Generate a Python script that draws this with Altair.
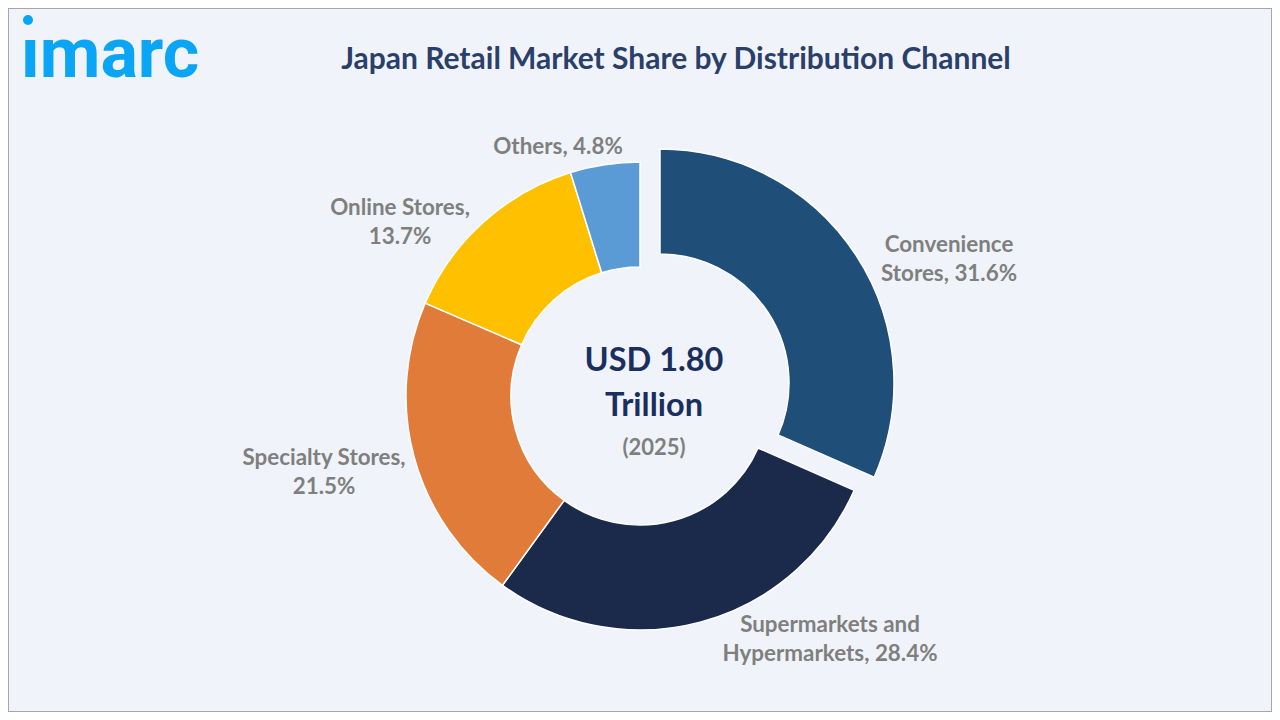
import math

import altair as alt
import pandas as pd

channels = ["Convenience Stores", "Supermarkets and Hypermarkets", "Specialty Stores", "Online Stores", "Others"]
shares = [31.6, 28.4, 21.5, 13.7, 4.8]
colors = ["#1F4E79", "#1B2A4A", "#E07B39", "#FFC000", "#5B9BD5"]
label_lines = [
    ["Convenience", "Stores, 31.6%"],
    ["Supermarkets and", "Hypermarkets, 28.4%"],
    ["Specialty Stores,", "21.5%"],
    ["Online Stores,", "13.7%"],
    ["Others, 4.8%"],
]
title_text = "Japan Retail Market Share by Distribution Channel"
center_value = ["USD 1.80", "Trillion"]
center_year = "(2025)"

FONT = "Lato"
BG = "#F0F4FA"
CX, CY = 632, 388

df = pd.DataFrame({"channel": channels, "share": shares, "color": colors})
df["end"] = df["share"].cumsum()
df["start"] = df["end"] - df["share"]

theta_scale = alt.Scale(domain=[0, 100], range=[0, 2 * math.pi])


def slices(data, dx=0, dy=0):
    return alt.Chart(data).mark_arc(
        outerRadius=234, innerRadius=129, stroke="#FFFFFF", strokeWidth=1.5,
        xOffset=dx, yOffset=dy
    ).encode(
        theta=alt.Theta("start:Q", scale=theta_scale),
        theta2="end:Q",
        color=alt.Color("color:N", scale=None, legend=None),
        x=alt.value(CX),
        y=alt.value(CY),
    )


def note(text, x, y, size=22.4, color="#7F7F7F", font=FONT, line_height=29, weight="bold"):
    return alt.Chart(df.head(1)).mark_text(
        text=text, font=font, fontSize=size, fontWeight=weight, color=color,
        align="center", baseline="middle", lineHeight=line_height
    ).encode(x=alt.value(x), y=alt.value(y))


pie = slices(df[df["channel"] != channels[0]]) + slices(df[df["channel"] == channels[0]], 20, -13)

labels = [
    note(label_lines[0], 941, 237),
    note(label_lines[1], 822, 617),
    note(label_lines[2], 316, 450),
    note(label_lines[3], 392, 200),
    note(label_lines[4], 550, 139),
]

center = [
    note(center_value, 646, 353, size=32.5, color="#1B2F5E", line_height=45),
    note(center_year, 646, 440, size=22),
]

title = note(title_text, 668, 52, size=30, color="#2B3F6B")

logo_text = note("ımarc", 102, 48, size=70, color="#0AA5F5", font="Roboto", weight=700)
logo_dot = alt.Chart(df.head(1)).mark_point(
    filled=True, size=100, color="#0AA5F5", opacity=1
).encode(x=alt.value(20), y=alt.value(12))

chart = alt.layer(pie, *labels, *center, title, logo_text, logo_dot).properties(
    width=1264, height=704, padding=0, autosize="none", background=BG
).configure_view(stroke="#A6A6A6", strokeWidth=2)

chart.save("out.html", embed_options={"renderer": "svg", "actions": False})
